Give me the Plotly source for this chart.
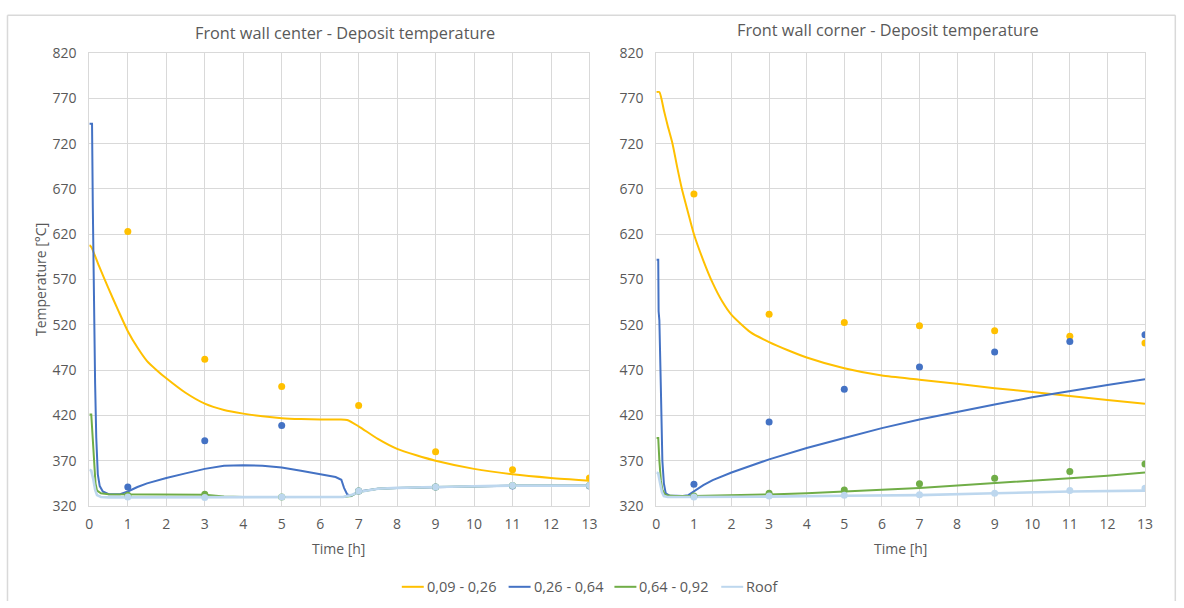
import plotly.graph_objects as go

# figure size (the page body keeps its default 8px margin)
W, H = 1184, 610
OFF = 8
# page -> screen mapping of the rendered page
AX, BX = 3.5, 0.9916
SY = 608 / 626

# ---- legend / series names and colours ----
series_names = ["0,09 - 0,26", "0,26 - 0,64", "0,64 - 0,92", "Roof"]
series_colors = ["#FFC000", "#4472C4", "#70AD47", "#BDD7EE"]

# ---- Front wall center: simulated curves ----
c_yel_t = [0, 0.05, 0.25, 0.5, 0.75, 1, 1.25, 1.5, 1.75, 2, 2.5, 3, 3.5, 4, 4.5, 5, 5.5, 6, 6.5, 6.7, 7, 7.5, 8, 8.5, 9, 10, 11, 12, 13]
c_yel_T = [608, 606, 585, 560, 536, 513, 495, 480, 470, 461, 445, 433, 426, 422, 419, 417, 416, 415.5, 415.5, 415, 408, 394, 383, 376, 370, 361, 355, 351, 348]

c_blu_t = [0, 0.07, 0.09, 0.12, 0.15, 0.18, 0.22, 0.27, 0.35, 0.5, 0.8, 1.0, 1.25, 1.5, 2, 2.5, 3, 3.5, 4, 4.5, 5, 5.5, 6, 6.4, 6.55, 6.62, 6.7, 6.8, 7, 7.5, 8, 9, 10, 11, 12, 13]
c_blu_T = [742, 742, 650, 540, 455, 395, 355, 342, 336, 333, 333, 336, 341, 345, 351, 356, 361, 364.5, 365, 364.5, 362.5, 359, 355, 352, 349, 340, 333, 331, 336, 339, 340, 341, 342, 342.5, 342.5, 342.5]

c_grn_t = [0, 0.05, 0.08, 0.12, 0.16, 0.2, 0.3, 0.5, 1, 2, 3, 3.5, 4, 5, 6, 6.6, 6.8, 7, 7.5, 8, 9, 10, 11, 12, 13]
c_grn_T = [421, 421, 400, 365, 345, 337, 334, 333, 333, 333, 332.5, 330.5, 330, 330, 330, 330, 331, 335.5, 339, 340, 341, 342, 342.5, 342.5, 342.5]

c_roof_t = [0, 0.05, 0.1, 0.15, 0.2, 0.3, 0.5, 1, 2, 3, 4, 5, 6, 6.6, 6.8, 7, 7.5, 8, 9, 10, 11, 12, 13]
c_roof_T = [360, 359, 350, 338, 332, 330, 329.5, 329.5, 329.5, 329.5, 329.5, 329.5, 329.5, 330, 332, 335.5, 339, 340, 341, 342, 342.5, 342.5, 342.5]

# ---- Front wall center: measured points ----
meas_t = [1, 3, 5, 7, 9, 11, 13]
c_yel_pts = [623, 482, 452, 431, 380, 360, 351]
c_blu_pts = [341, 392, 409, 336.5, 341, 342, 342]
c_grn_pts = [332, 333, 330, 336.5, 341, 342.5, 342.5]
c_roof_pts = [330, 329.5, 330, 336.5, 341, 342.5, 342.5]

# ---- Front wall corner: simulated curves ----
k_yel_t = [0, 0.08, 0.2, 0.3, 0.43, 0.55, 0.68, 0.85, 1, 1.25, 1.5, 1.75, 2, 2.5, 3, 3.5, 4, 5, 6, 7, 8, 9, 10, 11, 12, 13]
k_yel_T = [777, 777, 757, 740, 720, 695, 670, 643, 620, 591, 566, 546, 531, 512, 501, 492, 484, 472, 464, 459.5, 455, 450, 446, 441.5, 437, 433]

k_blu_t = [0, 0.05, 0.06, 0.08, 0.12, 0.16, 0.2, 0.25, 0.35, 0.5, 0.7, 0.85, 1, 1.25, 1.5, 2, 3, 4, 5, 6, 7, 8, 9, 10, 11, 12, 13]
k_blu_T = [592, 592, 535, 525, 450, 370, 345, 334, 331.5, 331, 331, 332, 336, 343, 348.5, 357, 371.5, 384, 395, 406, 415.5, 424, 432, 440, 447, 453.5, 460]

k_grn_t = [0, 0.05, 0.08, 0.12, 0.16, 0.22, 0.3, 0.5, 1, 2, 3, 4, 5, 6, 7, 8, 9, 10, 11, 12, 13]
k_grn_T = [395, 395, 370, 348, 338, 333, 331.5, 331, 331, 331.5, 332.8, 334, 335.7, 338, 340, 342.5, 345, 348, 350.6, 353.5, 357]

k_roof_t = [0, 0.05, 0.1, 0.15, 0.2, 0.3, 0.5, 1, 3, 5, 7, 9, 11, 13]
k_roof_T = [357, 356, 345, 335, 331, 330, 330, 330, 330.3, 331.4, 332, 334, 336, 337]

# ---- Front wall corner: measured points ----
k_yel_pts = [664.5, 531.7, 522.5, 519, 513.5, 507.3, 500]
k_blu_pts = [344, 412.7, 449, 473.6, 490, 501.7, 509]
k_grn_pts = [331, 334, 337.6, 344.5, 350.7, 358, 366.4]
k_roof_pts = [330, 331, 332, 332.4, 334, 337, 339.5]

# ---- axis ticks ----
x_ticks = list(range(0, 14))
y_ticks = list(range(320, 821, 50))

TXT = "#595959"
GRID = "#D9D9D9"
FONT = "Open Sans"

fig = go.Figure()

panels = [
    ("x", "y",
     [(c_yel_t, c_yel_T), (c_blu_t, c_blu_T), (c_grn_t, c_grn_T), (c_roof_t, c_roof_T)],
     [c_yel_pts, c_blu_pts, c_grn_pts, c_roof_pts]),
    ("x2", "y2",
     [(k_yel_t, k_yel_T), (k_blu_t, k_blu_T), (k_grn_t, k_grn_T), (k_roof_t, k_roof_T)],
     [k_yel_pts, k_blu_pts, k_grn_pts, k_roof_pts]),
]

for xa, ya, curves, points in panels:
    for i, (tt, TT) in enumerate(curves):
        # the smooth decay curves get spline smoothing; the steep ones stay linear
        shape = "spline" if i == 0 else "linear"
        fig.add_trace(go.Scatter(
            x=tt, y=TT, mode="lines", xaxis=xa, yaxis=ya,
            line=dict(color=series_colors[i], width=2.6 if i == 3 else 2,
                      shape=shape, smoothing=0.6),
            showlegend=False, hoverinfo="skip"))
    for i, pts in enumerate(points):
        fig.add_trace(go.Scatter(
            x=meas_t, y=pts, mode="markers", xaxis=xa, yaxis=ya,
            marker=dict(color=series_colors[i], size=7),
            showlegend=False, hoverinfo="skip"))


def px_x(p):
    # screen pixel -> paper fraction
    return min(max((p - AX) / BX / W, 0.7 / W), 1 - 0.7 / W)


def px_y(p):
    return 1 - (p / SY - OFF) / H


axis_common = dict(
    showgrid=True, gridcolor=GRID, gridwidth=1,
    showline=True, linecolor=GRID, linewidth=1, mirror=True,
    zeroline=False, ticks="",
    tickfont=dict(family=FONT, size=14, color=TXT),
)

y_dom = [px_y(505), px_y(51)]

fig.update_layout(
    width=W, height=H,
    margin=dict(l=0, r=0, t=0, b=0),
    paper_bgcolor="white", plot_bgcolor="white",
    font=dict(family=FONT, color=TXT),
    xaxis=dict(domain=[px_x(89), px_x(590)], range=[0, 13], tickvals=x_ticks,
               anchor="y", ticklabelstandoff=5, **axis_common),
    yaxis=dict(domain=y_dom, range=[320, 820], tickvals=y_ticks,
               anchor="x", ticklabelstandoff=9, **axis_common),
    xaxis2=dict(domain=[px_x(657), px_x(1146.5)], range=[0, 13], tickvals=x_ticks,
                anchor="y2", ticklabelstandoff=5, **axis_common),
    yaxis2=dict(domain=y_dom, range=[320, 820], tickvals=y_ticks,
                anchor="x2", ticklabelstandoff=9, **axis_common),
)

annotations = [
    dict(text="Front wall center - Deposit temperature", x=px_x(345), y=px_y(31),
         font=dict(size=16.3, color=TXT, family=FONT)),
    dict(text="Front wall corner - Deposit temperature", x=px_x(889), y=px_y(28),
         font=dict(size=16.3, color=TXT, family=FONT)),
    dict(text="Temperature [°C]", x=px_x(40), y=px_y(278), textangle=-90,
         font=dict(size=14, color=TXT, family=FONT)),
    dict(text="Time [h]", x=px_x(339), y=px_y(548),
         font=dict(size=14, color=TXT, family=FONT)),
    dict(text="Time [h]", x=px_x(902), y=px_y(548),
         font=dict(size=14, color=TXT, family=FONT)),
]
for a in annotations:
    a.update(xref="paper", yref="paper", showarrow=False, xanchor="center", yanchor="middle")

# outer chart frame: top, left and right edges (bottom runs off the page)
frame = dict(xref="paper", yref="paper", type="line", line=dict(color=GRID, width=1.5))
x_left, x_right, y_top = px_x(7), px_x(1180), px_y(13)
shapes = [
    dict(frame, x0=x_left, x1=x_right, y0=y_top, y1=y_top),
    dict(frame, x0=x_left, x1=x_left, y0=0, y1=y_top),
    dict(frame, x0=x_right, x1=x_right, y0=0, y1=y_top),
]

# legend drawn below both panels
leg_line_x = [402, 509, 615, 722]
leg_y = px_y(586)
for i, name in enumerate(series_names):
    x0 = leg_line_x[i]
    shapes.append(dict(type="line", xref="paper", yref="paper",
                       x0=px_x(x0), x1=px_x(x0 + 22), y0=leg_y, y1=leg_y,
                       line=dict(color=series_colors[i], width=2)))
    annotations.append(dict(text=name, xref="paper", yref="paper",
                            x=px_x(x0 + 23), y=leg_y, xanchor="left", yanchor="middle",
                            showarrow=False, font=dict(size=14.5, color=TXT, family=FONT)))

fig.update_layout(annotations=annotations, shapes=shapes)

fig.write_html("out.html")
